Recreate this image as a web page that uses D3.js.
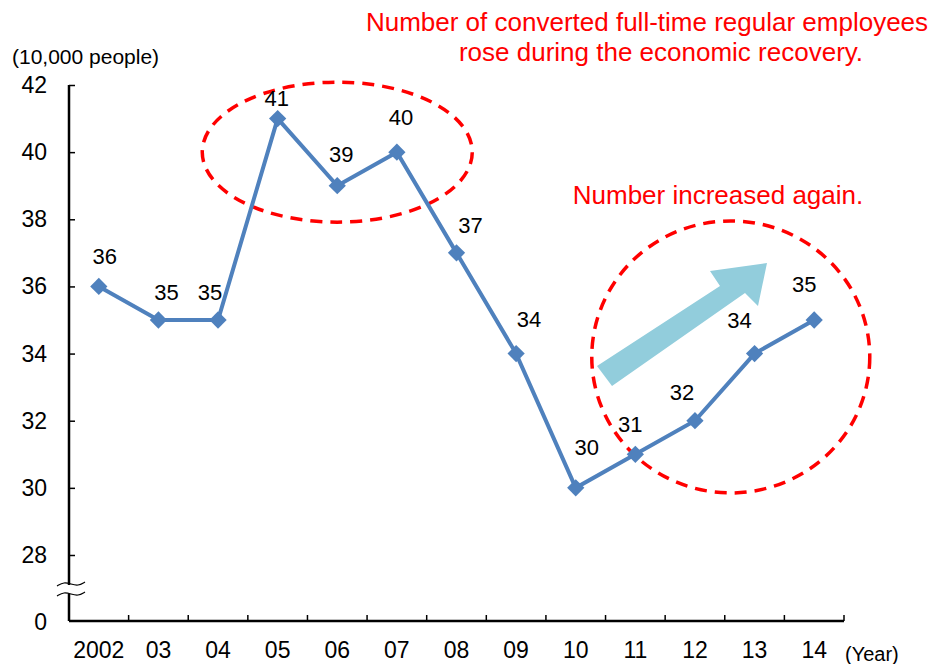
<!DOCTYPE html>
<html>
<head>
<meta charset="utf-8">
<script src="https://cdn.jsdelivr.net/npm/d3@7"></script>
<style>
  body { margin: 0; background: #fff; }
  svg { font-family: "Liberation Sans", Arial, sans-serif; }
</style>
</head>
<body>
<div id="chart"></div>
<script>
// data
const years = ['2002', '03', '04', '05', '06', '07', '08', '09', '10', '11', '12', '13', '14'];
const values = [36, 35, 35, 41, 39, 40, 37, 34, 30, 31, 32, 34, 35];
const yTicks = [28, 30, 32, 34, 36, 38, 40, 42];
const notes = [
  ['Number of converted full-time regular employees', 'rose during the economic recovery.'],
  ['Number increased again.']
];

// hand-placed label nudges (px), as in the original
const labelDx = [6, 8, -8, -1, 4, 4, 14, 13, 11, -5, -13, -15, -10];
const labelDy = [-22, -20, -20, -13, -24, -27, -20, -27, -33, -22, -21, -26, -28];

const width = 941, height = 664;
const plotLeft = 69, plotRight = 844, plotTop = 85, plotBottom = 621;

const svg = d3.select('#chart').append('svg')
  .attr('width', width)
  .attr('height', height);

const x = d3.scaleBand().domain(years).range([plotLeft, plotRight]);
const y = d3.scaleLinear().domain([28, 42]).range([555, plotTop]);
const cx = (i) => x(years[i]) + x.bandwidth() / 2;

// axes
const yAxis = svg.append('g').attr('transform', `translate(${plotLeft},0)`)
  .call(d3.axisRight(y).tickValues(yTicks).tickSize(6).tickFormat(''));
yAxis.select('.domain').remove();
yAxis.selectAll('line').attr('stroke', '#000').attr('stroke-width', 1.5);

svg.append('line')
  .attr('x1', plotLeft).attr('x2', plotLeft).attr('y1', plotTop).attr('y2', plotBottom)
  .attr('stroke', '#000').attr('stroke-width', 2.5);

svg.selectAll('.ylab').data(yTicks).enter().append('text')
  .attr('x', 47).attr('y', (d) => y(d) + 8)
  .attr('text-anchor', 'end').attr('font-size', 23)
  .text((d) => d);
svg.append('text').attr('x', 47).attr('y', plotBottom + 9)
  .attr('text-anchor', 'end').attr('font-size', 23).text('0');

// axis break
svg.append('rect').attr('x', plotLeft - 3).attr('y', 585).attr('width', 6).attr('height', 9).attr('fill', '#fff');
const wave = d3.line().curve(d3.curveBasis);
[584, 594].forEach((yy) => {
  svg.append('path')
    .attr('d', wave([[57, yy + 2], [64, yy - 2], [71, yy], [78, yy + 2], [85, yy - 2]]))
    .attr('fill', 'none').attr('stroke', '#000').attr('stroke-width', 1.2);
});

// x axis
const xTickPos = years.map((d) => x(d)).concat([plotRight]).slice(1);
svg.selectAll('.xtick').data(xTickPos).enter().append('line')
  .attr('x1', (d) => d).attr('x2', (d) => d)
  .attr('y1', plotBottom).attr('y2', plotBottom - 6)
  .attr('stroke', '#000').attr('stroke-width', 1.5);
svg.append('line')
  .attr('x1', plotLeft).attr('x2', plotRight).attr('y1', plotBottom).attr('y2', plotBottom)
  .attr('stroke', '#000').attr('stroke-width', 2.5);
svg.selectAll('.xlab').data(years).enter().append('text')
  .attr('x', (d, i) => cx(i)).attr('y', 658)
  .attr('text-anchor', 'middle').attr('font-size', 23)
  .text((d) => d);

svg.append('text').attr('x', 12).attr('y', 64).attr('font-size', 21).text('(10,000 people)');
svg.append('text').attr('x', 845).attr('y', 661).attr('font-size', 20).text('(Year)');

// ellipses
svg.append('ellipse')
  .attr('cx', cx(4)).attr('cy', y(40))
  .attr('rx', 135).attr('ry', 70)
  .attr('fill', 'none').attr('stroke', '#f00').attr('stroke-width', 3.5)
  .attr('stroke-dasharray', '12 8');
svg.append('ellipse')
  .attr('cx', x('13') + 6).attr('cy', y(33.9))
  .attr('rx', 139).attr('ry', 136)
  .attr('fill', 'none').attr('stroke', '#f00').attr('stroke-width', 3.5)
  .attr('stroke-dasharray', '12 8');

// arrow
svg.append('polygon')
  .attr('points', [[597, 366], [720, 286], [710, 271], [767, 263], [758, 306], [745, 293], [612, 386]].join(' '))
  .attr('fill', '#92CDDC');

// line + markers
const line = d3.line()
  .x((d, i) => cx(i))
  .y((d) => y(d));
svg.append('path').datum(values)
  .attr('d', line)
  .attr('fill', 'none').attr('stroke', '#4F81BD').attr('stroke-width', 4);

svg.selectAll('.pt').data(values).enter().append('path')
  .attr('d', d3.symbol(d3.symbolDiamond2, 190))
  .attr('transform', (d, i) => `translate(${cx(i)},${y(d)})`)
  .attr('fill', '#4F81BD');

svg.selectAll('.val').data(values).enter().append('text')
  .attr('x', (d, i) => cx(i) + labelDx[i])
  .attr('y', (d, i) => y(d) + labelDy[i])
  .attr('text-anchor', 'middle').attr('font-size', 22)
  .text((d) => d);

// notes
svg.selectAll('.n1').data(notes[0]).enter().append('text')
  .attr('x', (d, i) => i === 0 ? 647 : 661).attr('y', (d, i) => 31 + i * 30)
  .attr('text-anchor', 'middle').attr('font-size', 26).attr('fill', '#f00')
  .text((d) => d);
svg.append('text').attr('x', 718).attr('y', 204)
  .attr('text-anchor', 'middle').attr('font-size', 26).attr('fill', '#f00')
  .text(notes[1][0]);
</script>
</body>
</html>
